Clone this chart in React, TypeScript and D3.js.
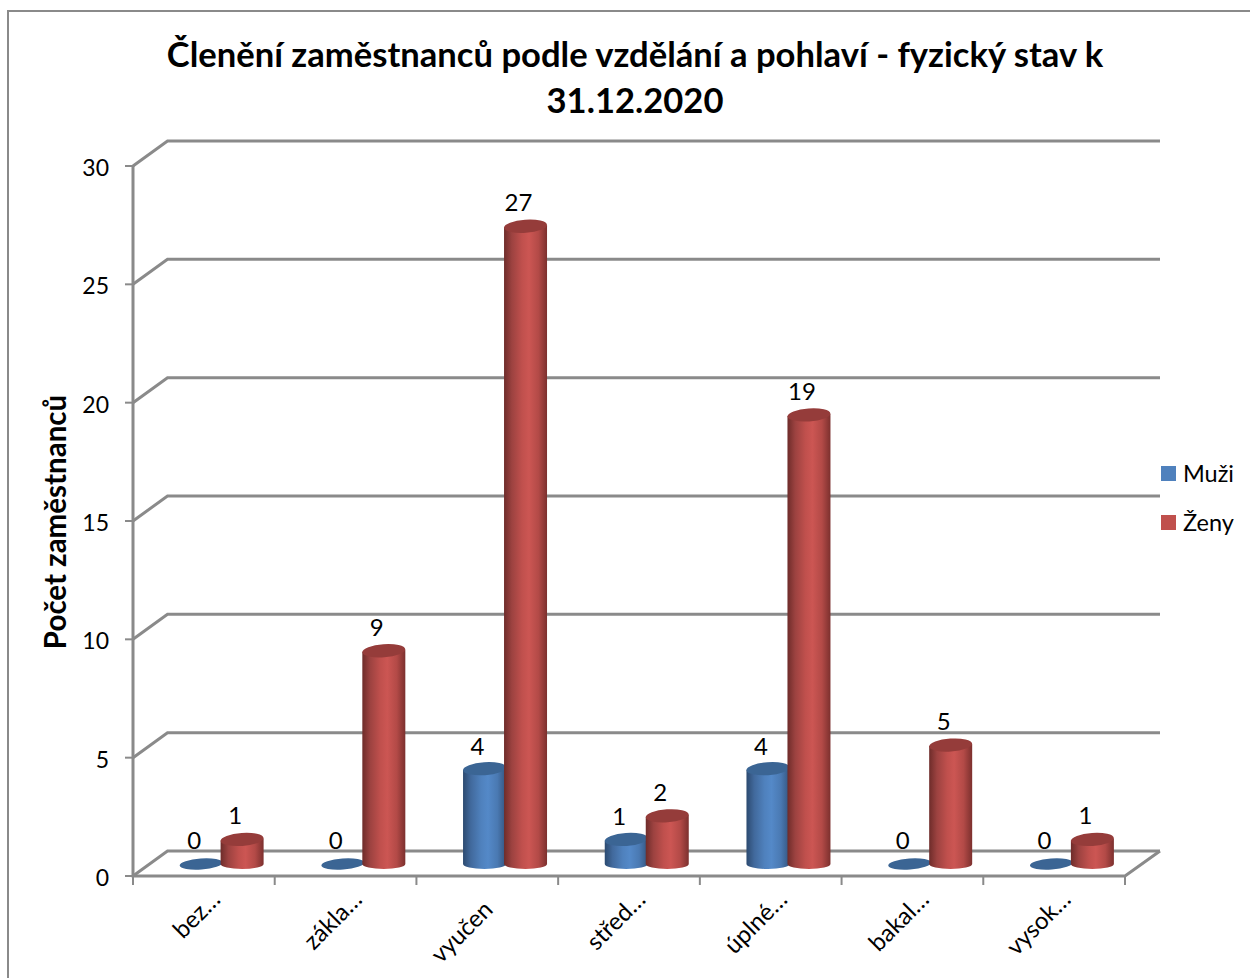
import React from "react";
import * as d3 from "d3";

const categories = ["bez…", "zákla…", "vyučen", "střed…", "úplné…", "bakal…", "vysok…"];
const muzi = [0, 0, 4, 1, 4, 0, 0];
const zeny = [1, 9, 27, 2, 19, 5, 1];
const yTicks = [0, 5, 10, 15, 20, 25, 30];
const titleLines = ["Členění zaměstnanců podle vzdělání a pohlaví - fyzický stav k", "31.12.2020"];
const yTitle = "Počet zaměstnanců";
const seriesNames = ["Muži", "Ženy"];

const FONT = "Lato, 'Open Sans', sans-serif";
const GRID = "#8a8a8a";
const W = 1250, H = 978;
const DX = 34.5, DY = 25;

const x = d3.scaleBand<string>().domain(categories).range([133, 1125]).paddingInner(0).paddingOuter(0);
const y = d3.scaleLinear().domain([0, 30]).range([876, 166]);
const barY = d3.scaleLinear().domain([0, 30]).range([864, 156.5]);
const inner = d3.scaleBand<string>().domain(seriesNames).range([-41, 41]);

const palette = [
  { id: "gb", top: "#3b6594", swatch: "#4f81bd", stops: ["#2c4a70", "#41699c", "#4f81bd", "#5489c8", "#4a79b2", "#34557f"] },
  { id: "gr", top: "#953c3a", swatch: "#c0504d", stops: ["#6e2c2a", "#9c4240", "#c0504d", "#cc5653", "#b34a47", "#7c302e"] },
];
const stopAt = [0, 0.18, 0.42, 0.58, 0.8, 1];
const TILT = -4;

function Cylinder({ cx, v, p }: { cx: number; v: number; p: (typeof palette)[number] }) {
  const rx = 21.5;
  const yb = barY(0);
  const yt = barY(v) - (v > 0 ? 1 : 0);
  const ryB = 5;
  const ryT = 6.5;
  const body = `M${cx - rx},${yt + 1}L${cx - rx},${yb}A${rx},${ryB} 0 0 0 ${cx + rx},${yb}L${cx + rx},${yt - 1}Z`;
  return (
    <g>
      {v > 0 && <path d={body} fill={`url(#${p.id})`} />}
      <ellipse cx={cx} cy={yt} rx={rx} ry={v > 0 ? ryT : 5.5} fill={p.top} transform={`rotate(${TILT} ${cx} ${yt})`} />
    </g>
  );
}

export default function App() {
  return (
    <svg width={W} height={H} viewBox={`0 0 ${W} ${H}`} style={{ position: "absolute", left: 0, top: 0, display: "block", background: "#fff" }} fontFamily={FONT}>
      <defs>
        {palette.map((p) => (
          <linearGradient key={p.id} id={p.id} x1="0" x2="1" y1="0" y2="0">
            {p.stops.map((c, i) => <stop key={i} offset={stopAt[i]} stopColor={c} />)}
          </linearGradient>
        ))}
      </defs>
      <path d={`M${W},11H8V${H}`} fill="none" stroke={GRID} strokeWidth={2} />

      {titleLines.map((t, i) => (
        <text key={t} x={635} y={67 + i * 46} textAnchor="middle" fontSize={34.6} fontWeight={700} fill="#000">{t}</text>
      ))}
      <text transform="translate(66,522) rotate(-90)" textAnchor="middle" fontSize={29.5} fontWeight={700} fill="#000">{yTitle}</text>

      {yTicks.map((t) => (
        <g key={t} stroke={GRID} strokeWidth={3} fill="none">
          <path d={`M133,${y(t)}L${133 + DX},${y(t) - DY}H1160`} />
          <path d={`M125,${y(t)}H133`} strokeWidth={2} />
        </g>
      ))}
      <path d={`M133,${y(30)}V${y(0)}H1125L1160,${y(0) - DY}`} fill="none" stroke={GRID} strokeWidth={3} />
      {[...categories.map((c) => x(c) as number), 1125].map((t, i) => (
        <path key={i} d={`M${t},876V885`} stroke={GRID} strokeWidth={2} />
      ))}

      {yTicks.map((t) => (
        <text key={t} x={109} y={y(t) + 10} textAnchor="end" fontSize={23} fill="#000">{t}</text>
      ))}

      {categories.map((c, i) => {
        const center = (x(c) as number) + x.bandwidth() / 2;
        const cx = center + DX / 2 + 0.5;
        const cb = cx + (inner("Muži") as number) + inner.bandwidth() / 2;
        const cr = cx + (inner("Ženy") as number) + inner.bandwidth() / 2;
        return (
          <g key={c}>
            <Cylinder cx={cb} v={muzi[i]} p={palette[0]} />
            <Cylinder cx={cr} v={zeny[i]} p={palette[1]} />
          </g>
        );
      })}

      {categories.map((c, i) => {
        const center = (x(c) as number) + x.bandwidth() / 2;
        const cx = center + DX / 2 + 0.5;
        const cb = cx + (inner("Muži") as number) + inner.bandwidth() / 2;
        const cr = cx + (inner("Ženy") as number) + inner.bandwidth() / 2;
        const trunc = c.endsWith("…");
        const ax = center + (trunc ? 18 : 7);
        const ay = trunc ? 901 : 911;
        return (
          <g key={c} fill="#000">
            <text x={cb - 7} y={barY(muzi[i]) - 15} textAnchor="middle" fontSize={24}>{muzi[i]}</text>
            <text x={cr - 7} y={barY(zeny[i]) - 16} textAnchor="middle" fontSize={24}>{zeny[i]}</text>
            <text transform={`translate(${ax},${ay}) rotate(-45)`} textAnchor="end" fontSize={24}>{c}</text>
          </g>
        );
      })}

      {seriesNames.map((s, i) => (
        <g key={s}>
          <rect x={1161} y={466 + i * 49} width={15} height={15} fill={palette[i].swatch} />
          <text x={1183} y={482 + i * 49} fontSize={23.5} fill="#000">{s}</text>
        </g>
      ))}
    </svg>
  );
}
